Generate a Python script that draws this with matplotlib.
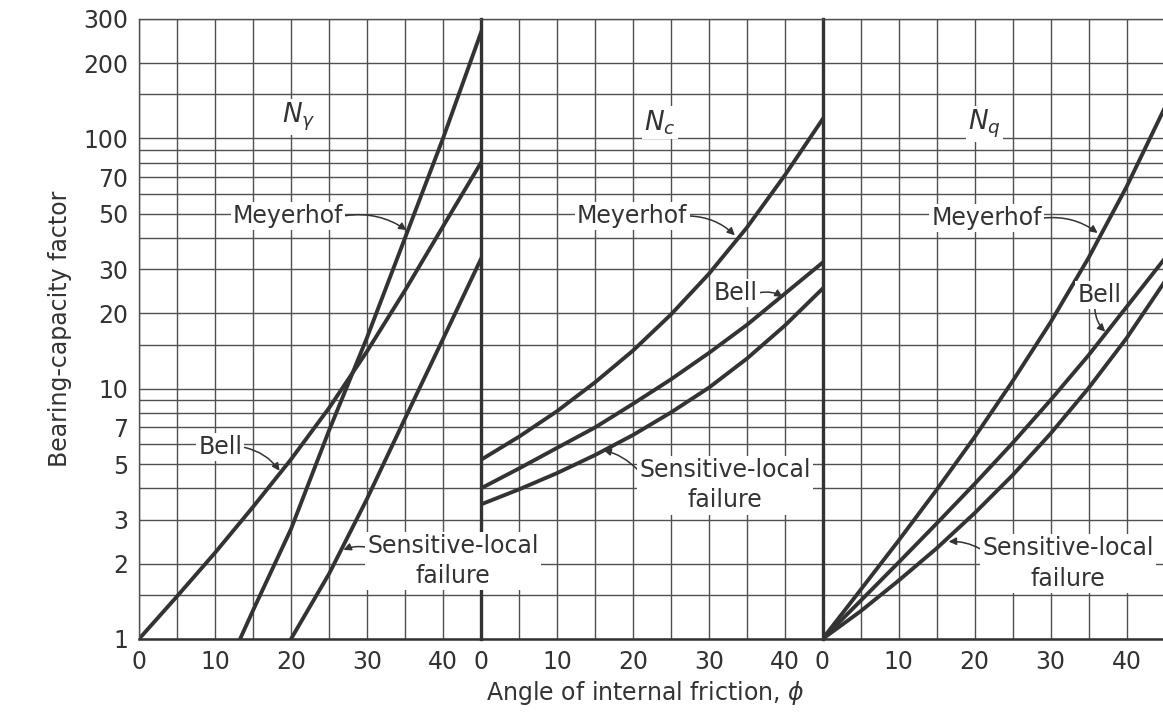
import matplotlib.pyplot as plt
from matplotlib.ticker import FixedLocator, NullFormatter

plt.rcParams['font.family'] = ['DejaVu Sans']

# angle of internal friction (deg) shared by most curves
phi = [0, 5, 10, 15, 20, 25, 30, 35, 40, 45]

# N gamma panel
ng_meyerhof_phi = [13.3, 15, 20, 25, 30, 35, 40, 45]
ng_meyerhof = [1, 1.3, 2.75, 6.8, 16, 40, 100, 265]
ng_bell = [1, 1.48, 2.21, 3.37, 5.22, 8.37, 14.1, 24.7, 44.5, 80]
ng_local_phi = [20, 25, 30, 35, 40, 45]
ng_local = [1, 1.82, 3.63, 7.6, 15.8, 33]

# N c panel
nc_meyerhof = [5.2, 6.43, 8.13, 10.6, 14.2, 19.8, 28.8, 44.1, 71.4, 120]
nc_bell = [4.0, 4.8, 5.8, 7.0, 8.7, 10.9, 13.9, 18.0, 24.0, 32.0]
nc_local = [3.45, 3.96, 4.6, 5.43, 6.53, 8.04, 10.1, 13.2, 17.9, 25.2]

# N q panel
nq_meyerhof = [1, 1.57, 2.47, 3.94, 6.4, 10.7, 18.4, 33.3, 64, 132]
nq_bell = [1, 1.42, 2.02, 2.89, 4.16, 6.06, 9.0, 13.6, 21.2, 33]
nq_local = [1, 1.29, 1.71, 2.3, 3.18, 4.51, 6.61, 10.05, 15.9, 26.7]

y_labels = [1, 2, 3, 5, 7, 10, 20, 30, 50, 70, 100, 200, 300]
y_minor = [1.5, 4, 6, 8, 9, 15, 40, 60, 80, 90, 150]
x_labels = [0, 10, 20, 30, 40]
x_minor = [5, 15, 25, 35]

ink = '#333333'
grid_c = '#505050'
fs = 17

fig = plt.figure(figsize=(11.63, 7.24), dpi=100)
W, H = 1163.0, 724.0
bottom = (H - 639) / H
height = 620 / H
lefts = [139, 481, 822.5]
axes = []
for i, l in enumerate(lefts):
    ax = fig.add_axes([l / W, bottom, 342 / W, height])
    ax.set_zorder(3 - i)
    ax.patch.set_visible(False)
    ax.set_yscale('log')
    ax.set_xlim(0, 45)
    ax.set_ylim(1, 300)
    ax.yaxis.set_major_locator(FixedLocator(y_labels))
    ax.yaxis.set_minor_locator(FixedLocator(y_minor))
    ax.yaxis.set_minor_formatter(NullFormatter())
    ax.xaxis.set_major_locator(FixedLocator(x_labels))
    ax.xaxis.set_minor_locator(FixedLocator(x_minor))
    ax.grid(True, which='both', color=grid_c, lw=1.0)
    ax.set_axisbelow(True)
    ax.tick_params(which='both', length=0, labelsize=fs, colors=ink, pad=8)
    ax.set_xticklabels([str(v) for v in x_labels])
    if i == 0:
        ax.set_yticklabels([str(v) for v in y_labels])
    else:
        ax.tick_params(axis='y', labelleft=False)
    for s in ['top', 'left']:
        ax.spines[s].set_linewidth(1.0)
        ax.spines[s].set_color(grid_c)
    ax.spines['right'].set_linewidth(2.4)
    ax.spines['right'].set_color(ink)
    ax.spines['bottom'].set_linewidth(1.8)
    ax.spines['bottom'].set_color(ink)
    axes.append(ax)

ax1, ax2, ax3 = axes
ax3.spines['right'].set_visible(False)
lw = 2.8

ax1.plot(ng_meyerhof_phi, ng_meyerhof, color=ink, lw=lw)
ax1.plot(phi, ng_bell, color=ink, lw=lw)
ax1.plot(ng_local_phi, ng_local, color=ink, lw=lw)

ax2.plot(phi, nc_meyerhof, color=ink, lw=lw)
ax2.plot(phi, nc_bell, color=ink, lw=lw)
ax2.plot(phi, nc_local, color=ink, lw=lw)

ax3.plot(phi, nq_meyerhof, color=ink, lw=lw)
ax3.plot(phi, nq_bell, color=ink, lw=lw)
ax3.plot(phi, nq_local, color=ink, lw=lw)

box = dict(fc='white', ec='none', pad=1.5)


def label(ax, s, xytext, xy, relpos=(1, 0.5), rad=-0.2):
    ax.annotate(s, xy=xy, xytext=xytext, ha='center', va='center',
                fontsize=fs, color=ink, bbox=box, annotation_clip=False,
                multialignment='center', linespacing=1.35,
                arrowprops=dict(arrowstyle='-|>', color=ink, lw=1.1,
                                mutation_scale=11, relpos=relpos,
                                shrinkA=0, shrinkB=0,
                                connectionstyle='arc3,rad=%s' % rad))


# panel titles
ax1.text(21, 122, r'$N_\gamma$', ha='center', va='center', fontsize=19, color=ink,
         bbox=box)
ax2.text(23.5, 116, r'$N_c$', ha='center', va='center', fontsize=19, color=ink,
         bbox=box)
ax3.text(21.3, 114, r'$N_q$', ha='center', va='center', fontsize=19, color=ink,
         bbox=box)

label(ax1, 'Meyerhof', (19.6, 49), (35.2, 43))
label(ax1, 'Bell', (10.7, 5.85), (18.5, 4.7))
label(ax1, 'Sensitive-local\nfailure', (41.3, 2.05), (26.9, 2.27),
      relpos=(0, 0.75), rad=0.15)

label(ax2, 'Meyerhof', (19.9, 49), (33.4, 41))
label(ax2, 'Bell', (33.5, 24.1), (39.7, 23.3))
label(ax2, 'Sensitive-local\nfailure', (32.1, 4.12), (16.1, 5.69),
      relpos=(0, 0.75), rad=0.15)

label(ax3, 'Meyerhof', (21.6, 48), (36.2, 41.9))
label(ax3, 'Bell', (36.4, 23.7), (37.2, 16.9), relpos=(0.4, 0), rad=0.2)
label(ax3, 'Sensitive-local\nfailure', (32.3, 2.0), (16.6, 2.45),
      relpos=(0, 0.75), rad=0.15)

ax1.set_ylabel('Bearing-capacity factor', fontsize=fs, color=ink)
ax1.yaxis.set_label_coords(-0.196, 0.5)
fig.text(645 / W, 1 - 693 / H, r'Angle of internal friction, $\phi$',
         ha='center', va='center', fontsize=fs, color=ink)

fig.savefig('out.png', dpi=100, facecolor='white')
